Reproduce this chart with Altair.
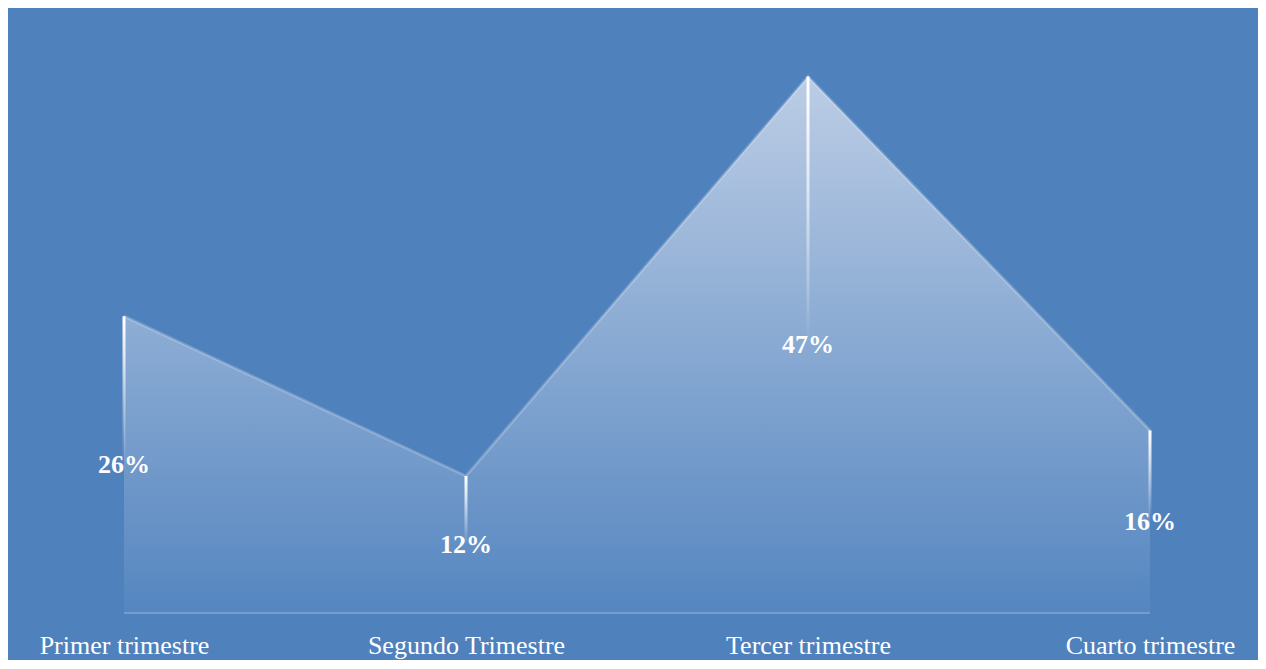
import altair as alt
import pandas as pd

categories = ["Primer trimestre", "Segundo Trimestre", "Tercer trimestre", "Cuarto trimestre"]
values = [0.26, 0.12, 0.47, 0.16]

df = pd.DataFrame({"trimestre": categories, "valor": values})

BG = "#4F81BD"
SERIF = "Liberation Serif"

x = alt.X("trimestre:N", sort=categories,
          scale=alt.Scale(type="point", padding=0, range=[116, 1142]),
          axis=alt.Axis(title=None, labelAngle=0, domain=False, ticks=False, grid=False,
                        labelColor="white", labelFont=SERIF, labelFontSize=26,
                        labelPadding=32, labelBaseline="middle", labelLimit=0))
yscale = alt.Scale(domain=[0, 0.53], nice=False, zero=True)

base = alt.Chart(df)

area = base.mark_area(
    color=alt.Gradient(
        gradient="linear",
        stops=[alt.GradientStop(color="#BCCDE5", offset=0),
               alt.GradientStop(color="#5586C0", offset=1)],
        x1=1, x2=1, y1=0, y2=1),
    line=False,
).encode(x=x, y=alt.Y("valor:Q", scale=yscale, axis=None))

edge = base.mark_line(color="white", opacity=0.22, strokeWidth=3).encode(
    x=x, y=alt.Y("valor:Q", scale=yscale, axis=None))

baseline = base.transform_calculate(cero="0").mark_line(
    color="white", opacity=0.2, strokeWidth=2
).encode(x=x, y=alt.Y("cero:Q", scale=yscale, axis=None))

drops = base.transform_calculate(mitad="datum.valor / 2").mark_bar(
    size=3,
    color=alt.Gradient(
        gradient="linear",
        stops=[alt.GradientStop(color="rgba(255,255,255,1)", offset=0),
               alt.GradientStop(color="rgba(255,255,255,0.75)", offset=0.3),
               alt.GradientStop(color="rgba(255,255,255,0)", offset=1)],
        x1=1, x2=1, y1=0, y2=1),
).encode(x=x, y=alt.Y("valor:Q", scale=yscale, axis=None), y2="mitad:Q")

labels = base.transform_calculate(mitad="datum.valor / 2").mark_text(
    color="white", font=SERIF, fontSize=26, fontWeight="bold", baseline="middle", align="center"
).encode(x=x, y=alt.Y("mitad:Q", scale=yscale, axis=None),
         text=alt.Text("valor:Q", format=".0%"))

chart = alt.layer(area, edge, baseline, drops, labels).properties(
    width=1250, height=605,
    background=BG,
    padding={"left": 0, "top": 0, "right": 0, "bottom": 2},
).configure_view(stroke=None)

chart.save("out.html", embed_options={"renderer": "svg", "actions": False})
